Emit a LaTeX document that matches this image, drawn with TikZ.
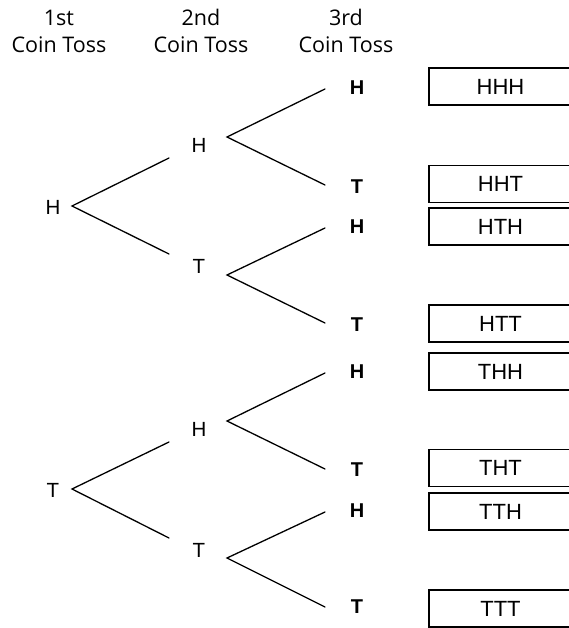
\documentclass[tikz,border=0pt]{standalone}
\usepackage{fontspec}
\setmainfont{Liberation Sans}
\newfontfamily\headfont{Open Sans}
\begin{document}
\begin{tikzpicture}[x=1pt,y=-1pt,
  branch/.style={line width=1.3pt, line cap=round},
  hdr/.style={font=\headfont\fontsize{21.5}{27}\selectfont, align=center, inner sep=0pt},
  lettera/.style={font=\fontsize{20.5}{20}\selectfont, inner sep=0pt},
  letterb/.style={font=\fontsize{20}{20}\selectfont\bfseries, inner sep=0pt},
  outbox/.style={draw, line width=1.3pt, minimum width=143pt, minimum height=37pt, inner sep=0pt, font=\fontsize{22}{22}\selectfont}]
\useasboundingbox (0,0) rectangle (568,628);
% headers
\node[hdr] (h1) at (59,31) {1st\\Coin Toss};
\node[hdr] (h2) at (201,31) {2nd\\Coin Toss};
\node[hdr] (h3) at (346,31) {3rd\\Coin Toss};
% ---- top half ----
\node[lettera] (r1) at (53,207) {H};
\coordinate (r1a) at (72,206);
\coordinate (r1u) at (169,158);
\coordinate (r1d) at (169,254);
\node[lettera] (s1) at (199,145) {H};
\coordinate (s1a) at (227,137);
\node[lettera] (s2) at (199,266) {T};
\coordinate (s2a) at (227,275);
\coordinate (e1) at (325,89);
\coordinate (e2) at (325,185);
\coordinate (e3) at (325,228);
\coordinate (e4) at (325,323);
\node[letterb] (t1) at (357,88) {H};
\node[letterb] (t2) at (357,187) {T};
\node[letterb] (t3) at (357,227) {H};
\node[letterb] (t4) at (357,325) {T};
\draw[branch] (r1u) -- (r1a) -- (r1d);
\draw[branch] (e1) -- (s1a) -- (e2);
\draw[branch] (e3) -- (s2a) -- (e4);
% ---- bottom half ----
\node[lettera] (r2) at (53,490) {T};
\coordinate (r2a) at (72,489);
\coordinate (r2u) at (169,442);
\coordinate (r2d) at (169,538);
\node[lettera] (s3) at (199,429) {H};
\coordinate (s3a) at (227,421);
\node[lettera] (s4) at (199,550) {T};
\coordinate (s4a) at (227,558);
\coordinate (e5) at (325,373);
\coordinate (e6) at (325,469);
\coordinate (e7) at (325,512);
\coordinate (e8) at (325,607);
\node[letterb] (t5) at (357,372) {H};
\node[letterb] (t6) at (357,470) {T};
\node[letterb] (t7) at (357,511) {H};
\node[letterb] (t8) at (357,607) {T};
\draw[branch] (r2u) -- (r2a) -- (r2d);
\draw[branch] (e5) -- (s3a) -- (e6);
\draw[branch] (e7) -- (s4a) -- (e8);
% outcome boxes
\node[outbox] (o1) at (500.5,86.5) {HHH};
\node[outbox] (o2) at (500.5,184) {HHT};
\node[outbox] (o3) at (500.5,226.5) {HTH};
\node[outbox] (o4) at (500.5,323.5) {HTT};
\node[outbox] (o5) at (500.5,371.5) {THH};
\node[outbox] (o6) at (500.5,468) {THT};
\node[outbox] (o7) at (500.5,511.5) {TTH};
\node[outbox] (o8) at (500.5,608.5) {TTT};
\end{tikzpicture}
\end{document}
